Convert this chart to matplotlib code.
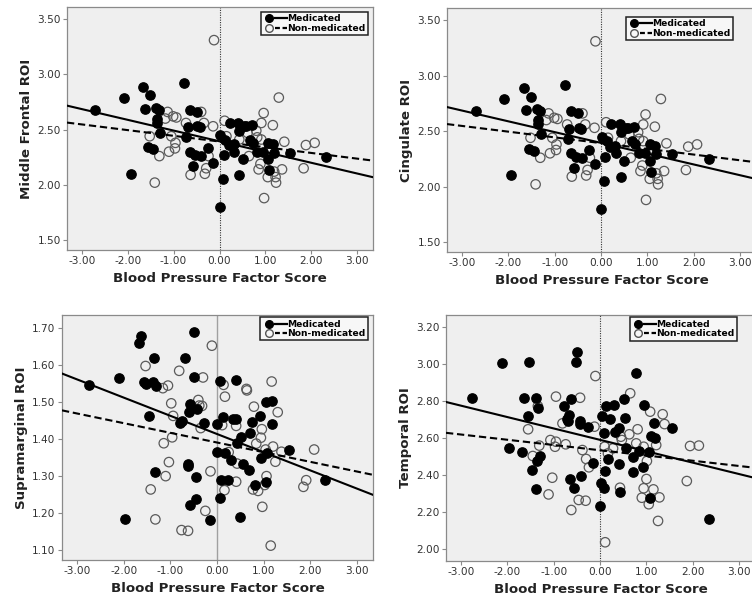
import numpy as np
import matplotlib
matplotlib.use("Agg")
import matplotlib.pyplot as plt
from matplotlib.lines import Line2D
from matplotlib.legend_handler import HandlerTuple


# ──────────────────────────────────────────────
# Data
# ──────────────────────────────────────────────

# Middle frontal / cingulate ROI (the two top panels share the same values)
frontal_med_x = [-2.70, -2.09, -1.93, -1.66, -1.52, -1.62, -1.38, -1.31, -1.36, -1.36,
                 -1.29, -1.55, -1.44, -0.78, -0.64, -0.50, -0.69, -0.48, -0.43, -0.72,
                 -0.64, -0.53, -0.40, -0.58, -0.26, -0.14, 0.02, 0.12, 0.07, 0.00,
                 0.09, 0.20, 0.22, 0.31, 0.32, 0.40, 0.43, 0.53, 0.58, 0.71,
                 0.66, 0.73, 0.50, 0.43, 0.82, 0.94, 1.05, 1.16, 1.05, 1.08,
                 1.18, 1.53, 2.32]
frontal_med_y = [2.68, 2.79, 2.10, 2.89, 2.81, 2.69, 2.70, 2.68, 2.60, 2.56,
                 2.47, 2.34, 2.32, 2.92, 2.68, 2.66, 2.52, 2.53, 2.52, 2.43,
                 2.30, 2.27, 2.26, 2.17, 2.33, 2.20, 2.45, 2.41, 2.05, 1.80,
                 2.27, 2.36, 2.56, 2.37, 2.30, 2.56, 2.49, 2.53, 2.53, 2.54,
                 2.41, 2.38, 2.23, 2.09, 2.30, 2.30, 2.38, 2.37, 2.23, 2.13,
                 2.29, 2.29, 2.25]
frontal_non_x = [-0.12, 1.29, -1.13, -1.01, -0.94, -1.18, -0.73, -0.40, -0.34, -0.14,
                 -1.52, -1.05, -0.96, -0.97, -1.10, -1.31, -1.41, 0.11, 0.15, -0.63,
                 -0.32, -0.29, -0.24, 0.96, 0.91, 1.16, 0.61, 0.80, 0.82, 0.43,
                 0.64, 0.89, 0.85, 1.05, 1.22, 1.23, 1.36, 1.41, 1.88, 2.07,
                 1.83, 0.97, 1.19, 0.91]
frontal_non_y = [3.31, 2.79, 2.66, 2.62, 2.61, 2.60, 2.56, 2.66, 2.56, 2.53,
                 2.44, 2.44, 2.38, 2.33, 2.30, 2.26, 2.02, 2.58, 2.44, 2.09,
                 2.10, 2.15, 2.26, 2.65, 2.56, 2.54, 2.47, 2.49, 2.43, 2.41,
                 2.26, 2.19, 2.14, 2.07, 2.07, 2.02, 2.14, 2.39, 2.36, 2.38,
                 2.15, 1.88, 2.12, 2.41]
frontal_fit = {"med": (2.394, -0.0973), "non": (2.392, -0.0517)}

# Supramarginal ROI
supra_med_x = [-2.74, -2.10, -1.97, -1.68, -1.62, -1.56, -1.53, -1.36, -1.35, -1.30,
               -1.45, -1.32, -0.49, -0.68, -0.50, -0.58, -0.61, -0.42, -0.76, -0.79,
               -0.63, -0.62, -0.45, -0.45, -0.58, -0.27, -0.01, -0.14, 0.06, 0.41,
               0.01, 0.18, 0.12, 0.07, 0.09, 0.23, 0.29, 0.34, 0.40, 0.42,
               0.51, 0.55, 0.68, 0.70, 0.75, 0.81, 0.92, 0.94, 1.04, 1.05,
               1.18, 1.17, 1.08, 0.49, 1.55, 2.32]
supra_med_y = [1.547, 1.566, 1.184, 1.659, 1.680, 1.556, 1.548, 1.556, 1.621, 1.544,
               1.463, 1.311, 1.689, 1.621, 1.569, 1.495, 1.473, 1.483, 1.450, 1.445,
               1.334, 1.328, 1.297, 1.237, 1.222, 1.445, 1.441, 1.181, 1.557, 1.560,
               1.366, 1.363, 1.459, 1.240, 1.289, 1.289, 1.343, 1.454, 1.454, 1.389,
               1.407, 1.333, 1.316, 1.417, 1.447, 1.276, 1.462, 1.348, 1.283, 1.500,
               1.503, 1.440, 1.363, 1.190, 1.371, 1.289]
supra_non_x = [-0.11, -1.53, -0.81, -0.30, -1.16, -1.05, -0.98, -0.94, -0.96, -1.14,
               -0.40, -0.38, -0.32, -0.35, -1.03, -1.10, -1.42, -1.32, -0.76, -0.62,
               -0.25, -0.14, 0.14, 0.17, 0.11, 0.16, 0.25, 0.41, 0.43, 0.41,
               0.63, 0.64, 0.79, 0.84, 0.94, 0.96, 1.04, 0.77, 0.88, 1.02,
               1.06, 0.97, 1.17, 1.20, 1.25, 1.30, 1.38, 1.15, 2.08, 1.91,
               1.85]
supra_non_y = [1.653, 1.598, 1.585, 1.567, 1.538, 1.545, 1.497, 1.463, 1.405, 1.389,
               1.506, 1.491, 1.490, 1.430, 1.338, 1.300, 1.264, 1.183, 1.154, 1.152,
               1.206, 1.313, 1.547, 1.515, 1.438, 1.262, 1.365, 1.436, 1.334, 1.285,
               1.536, 1.532, 1.488, 1.388, 1.404, 1.427, 1.372, 1.264, 1.260, 1.276,
               1.300, 1.217, 1.556, 1.380, 1.339, 1.473, 1.366, 1.112, 1.372, 1.289,
               1.271]
supra_fit = {"med": (1.414, -0.0493), "non": (1.391, -0.0262)}

# Temporal ROI
temporal_med_x = [-2.75, -2.11, -1.53, -1.97, -1.69, -1.63, -1.37, -1.33, -1.55, -1.30,
                  -1.35, -1.46, -1.39, -0.49, -0.51, -0.62, -0.78, -0.66, -0.71, -0.68,
                  -0.44, -0.43, -0.26, -0.15, -0.41, -0.64, -0.57, 0.04, 0.12, 0.30,
                  0.52, 0.21, 0.53, 0.77, 0.41, 0.32, 0.09, 0.56, 0.84, 0.70,
                  0.18, 0.40, 0.10, 0.70, 0.03, 0.09, 0.44, 0.00, 0.94, 1.17,
                  1.09, 1.19, 1.06, 0.92, 1.08, 1.55, 2.35]
temporal_med_y = [2.817, 3.006, 3.011, 2.548, 2.526, 2.817, 2.814, 2.760, 2.720, 2.505,
                  2.476, 2.428, 2.327, 3.065, 3.008, 2.810, 2.772, 2.724, 2.701, 2.693,
                  2.692, 2.674, 2.658, 2.464, 2.397, 2.379, 2.332, 2.720, 2.772, 2.778,
                  2.808, 2.702, 2.710, 2.952, 2.652, 2.631, 2.629, 2.544, 2.530, 2.499,
                  2.487, 2.458, 2.422, 2.419, 2.356, 2.332, 2.307, 2.234, 2.778, 2.683,
                  2.611, 2.598, 2.525, 2.446, 2.278, 2.656, 2.162]
temporal_non_x = [-0.10, 0.65, -0.95, -0.43, -1.34, -0.81, -0.12, -1.55, -1.07, -0.95,
                  -0.97, -0.74, -1.31, -1.45, -0.38, -0.30, -0.24, -1.03, -1.11, -0.46,
                  -0.31, -0.62, 0.10, 0.17, 0.28, 0.45, 0.47, 0.63, 0.81, 0.78,
                  0.94, 1.01, 1.08, 1.35, 1.39, 1.21, 1.00, 0.94, 0.90, 1.15,
                  1.05, 1.28, 1.25, 0.43, 0.11, 1.94, 2.13, 1.87]
temporal_non_y = [2.934, 2.841, 2.823, 2.817, 2.772, 2.679, 2.661, 2.647, 2.589, 2.580,
                  2.553, 2.566, 2.559, 2.503, 2.535, 2.487, 2.442, 2.386, 2.296, 2.266,
                  2.262, 2.212, 2.553, 2.517, 2.544, 2.607, 2.589, 2.620, 2.647, 2.571,
                  2.553, 2.476, 2.742, 2.728, 2.675, 2.562, 2.379, 2.329, 2.278, 2.323,
                  2.243, 2.280, 2.153, 2.332, 2.038, 2.557, 2.559, 2.368]
temporal_fit = {"med": (2.590, -0.0615), "non": (2.534, -0.0283)}

x_ticks = [-3.0, -2.0, -1.0, 0.0, 1.0, 2.0, 3.0]


# ──────────────────────────────────────────────
# Plotting
# ──────────────────────────────────────────────

BG = "#efefef"
SPINE = "#8a8a8a"


def draw_panel(ax, med_x, med_y, non_x, non_y, fit, ylabel, yticks, ylim,
               zero_style, legend_anchor):
    ax.set_facecolor(BG)
    xlim = (-3.32, 3.34)

    # zero reference line
    ax.axvline(0, zorder=1, **zero_style)

    ax.scatter(non_x, non_y, s=46, facecolors="none", edgecolors="#5a5a5a",
               linewidths=0.9, zorder=3)
    ax.scatter(med_x, med_y, s=46, facecolors="black", edgecolors="black",
               linewidths=0.9, zorder=4)

    # regression lines
    xs = np.array(xlim)
    b0, b1 = fit["med"]
    ax.plot(xs, b0 + b1 * xs, color="black", lw=1.5, zorder=5)
    b0, b1 = fit["non"]
    ax.plot(xs, b0 + b1 * xs, color="black", lw=1.5, ls=(0, (3.5, 1.8)), zorder=5)

    ax.set_xlim(*xlim)
    ax.set_ylim(*ylim)
    ax.set_xticks(x_ticks)
    ax.set_xticklabels([f"{v:.2f}" for v in x_ticks])
    ax.set_yticks(yticks)
    ax.set_yticklabels([f"{v:.2f}" for v in yticks])
    ax.tick_params(axis="both", direction="out", length=3, width=0.8,
                   color=SPINE, labelsize=7.6, labelcolor="#333333", pad=1.5)
    for s in ax.spines.values():
        s.set_color(SPINE)
        s.set_linewidth(0.9)

    ax.set_xlabel("Blood Pressure Factor Score", fontsize=9.6, fontweight="bold",
                  color="#222222", labelpad=4)
    ax.set_ylabel(ylabel, fontsize=9.6, fontweight="bold", color="#222222",
                  labelpad=3)

    med_pt = Line2D([], [], marker="o", ls="none", color="black", markersize=5.5)
    med_ln = Line2D([], [], color="black", lw=1.6)
    non_pt = Line2D([], [], marker="o", ls="none", markerfacecolor="none",
                    markeredgecolor="#555555", markersize=5.5)
    non_ln = Line2D([], [], color="black", lw=1.6, ls=(0, (2.2, 1.2)))
    leg = ax.legend([(med_pt, med_ln), (non_pt, non_ln)],
                    ["Medicated", "Non-medicated"],
                    handler_map={tuple: HandlerTuple(ndivide=None, pad=0.0)},
                    loc="upper right", bbox_to_anchor=legend_anchor,
                    prop={"size": 6.6, "weight": "semibold"},
                    handlelength=2.6, handletextpad=0.1,
                    borderpad=0.25, labelspacing=0.05, borderaxespad=0,
                    fancybox=False, framealpha=1, facecolor="#f7f7f7",
                    edgecolor="#222222")
    leg.get_frame().set_linewidth(1.1)
    return ax


fig = plt.figure(figsize=(7.52, 6.08), dpi=100, facecolor="white")

dotted = dict(color="#333333", lw=0.8, ls=(0, (1, 1.2)))
solid_gray = dict(color="#a0a0a0", lw=1.0, ls="-")

ax1 = fig.add_axes([0.0891, 0.5888, 0.4069, 0.3997])
draw_panel(ax1, frontal_med_x, frontal_med_y, frontal_non_x, frontal_non_y,
           frontal_fit, "Middle Frontal ROI", [1.5, 2.0, 2.5, 3.0, 3.5],
           (1.41, 3.61), dotted, (0.984, 0.979))

ax2 = fig.add_axes([0.5944, 0.5855, 0.4109, 0.4013])
draw_panel(ax2, frontal_med_x, frontal_med_y, frontal_non_x, frontal_non_y,
           frontal_fit, "Cingulate ROI", [1.5, 2.0, 2.5, 3.0, 3.5],
           (1.41, 3.61), dotted, (0.926, 0.963))

ax3 = fig.add_axes([0.0824, 0.0789, 0.4136, 0.4030])
draw_panel(ax3, supra_med_x, supra_med_y, supra_non_x, supra_non_y,
           supra_fit, "Supramarginal ROI", [1.1, 1.2, 1.3, 1.4, 1.5, 1.6, 1.7],
           (1.073, 1.736), solid_gray, (0.984, 0.99))

ax4 = fig.add_axes([0.5931, 0.0773, 0.4109, 0.4046])
draw_panel(ax4, temporal_med_x, temporal_med_y, temporal_non_x, temporal_non_y,
           temporal_fit, "Temporal ROI", [2.0, 2.2, 2.4, 2.6, 2.8, 3.0, 3.2],
           (1.937, 3.263), dotted, (0.942, 0.99))

fig.savefig("out.png", dpi=100, facecolor="white")
